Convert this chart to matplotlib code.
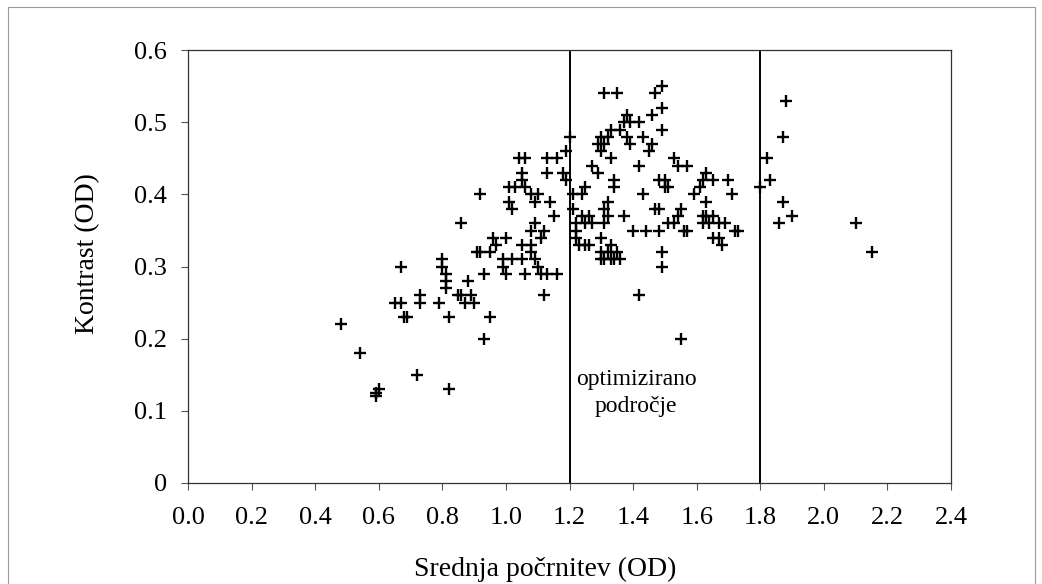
import matplotlib
matplotlib.use('Agg')
from matplotlib import pyplot as plt
from matplotlib.lines import Line2D

plt.rcParams['font.family'] = ['Liberation Serif', 'DejaVu Serif']

# Srednja počrnitev (OD) and Kontrast (OD)
x_left = [0.48, 0.54, 0.59, 0.60, 0.59, 0.65, 0.67, 0.67, 0.69, 0.68, 0.72, 0.73, 0.73,
          0.79, 0.80, 0.80, 0.81, 0.81, 0.81, 0.82, 0.82, 0.86, 0.85, 0.86, 0.87, 0.88,
          0.89, 0.90, 0.92, 0.91, 0.92, 0.93, 0.93, 0.95, 0.95, 0.96, 0.97, 0.99, 1.00,
          0.99, 1.00, 1.01, 1.02, 1.01, 1.03, 1.04, 1.06, 1.05, 1.06, 1.05, 1.02, 1.05,
          1.05, 1.08, 1.06, 1.08, 1.09, 1.08, 1.09, 1.10, 1.08, 1.09, 1.10, 1.11, 1.13,
          1.16, 1.12, 1.11, 1.12, 1.14, 1.15, 1.13, 1.16, 1.13, 1.18, 1.19, 1.19, 1.20]
y_left = [0.22, 0.18, 0.12, 0.13, 0.125, 0.25, 0.25, 0.30, 0.23, 0.23, 0.15, 0.25, 0.26,
          0.25, 0.31, 0.30, 0.29, 0.28, 0.27, 0.23, 0.13, 0.36, 0.26, 0.26, 0.25, 0.28,
          0.26, 0.25, 0.40, 0.32, 0.32, 0.29, 0.20, 0.23, 0.32, 0.34, 0.33, 0.30, 0.29,
          0.31, 0.34, 0.39, 0.38, 0.41, 0.41, 0.45, 0.45, 0.42, 0.41, 0.43, 0.31, 0.31,
          0.33, 0.33, 0.29, 0.35, 0.36, 0.40, 0.39, 0.40, 0.32, 0.31, 0.30, 0.29, 0.29,
          0.29, 0.26, 0.34, 0.35, 0.39, 0.37, 0.45, 0.45, 0.43, 0.43, 0.42, 0.46, 0.48]

x_mid = [1.21, 1.21, 1.22, 1.23, 1.22, 1.22, 1.24, 1.26, 1.27, 1.25, 1.25, 1.26, 1.24,
         1.25, 1.27, 1.29, 1.30, 1.29, 1.30, 1.31, 1.32, 1.33, 1.31, 1.35, 1.30, 1.31,
         1.32, 1.33, 1.34, 1.35, 1.36, 1.30, 1.30, 1.31, 1.32, 1.31, 1.32, 1.33, 1.33,
         1.34, 1.34, 1.37, 1.36, 1.37, 1.38, 1.39, 1.38, 1.39, 1.40, 1.42, 1.42, 1.42,
         1.43, 1.43, 1.44, 1.48, 1.45, 1.46, 1.46, 1.47, 1.48, 1.47, 1.49, 1.49, 1.49,
         1.49, 1.49, 1.48, 1.50, 1.51, 1.50, 1.51, 1.53, 1.53, 1.54, 1.54, 1.55, 1.55,
         1.56, 1.57, 1.57, 1.59, 1.61, 1.62, 1.63, 1.65, 1.62, 1.63, 1.64, 1.62, 1.65,
         1.63, 1.65, 1.67, 1.68, 1.67, 1.69, 1.70, 1.71, 1.72, 1.73]
y_mid = [0.40, 0.38, 0.35, 0.33, 0.34, 0.36, 0.37, 0.37, 0.36, 0.36, 0.33, 0.33, 0.40,
         0.41, 0.44, 0.43, 0.46, 0.47, 0.48, 0.47, 0.48, 0.49, 0.54, 0.54, 0.31, 0.31,
         0.32, 0.31, 0.31, 0.32, 0.31, 0.32, 0.34, 0.36, 0.37, 0.38, 0.39, 0.33, 0.45,
         0.41, 0.42, 0.37, 0.49, 0.50, 0.51, 0.50, 0.48, 0.47, 0.35, 0.26, 0.44, 0.50,
         0.48, 0.40, 0.35, 0.35, 0.46, 0.47, 0.51, 0.38, 0.38, 0.54, 0.55, 0.52, 0.49,
         0.32, 0.30, 0.42, 0.41, 0.41, 0.42, 0.36, 0.36, 0.45, 0.44, 0.37, 0.38, 0.20,
         0.35, 0.35, 0.44, 0.40, 0.41, 0.42, 0.43, 0.42, 0.37, 0.37, 0.36, 0.36, 0.37,
         0.39, 0.34, 0.34, 0.33, 0.36, 0.36, 0.42, 0.40, 0.35, 0.35]

x_right = [1.80, 1.82, 1.83, 1.86, 1.87, 1.87, 1.88, 1.90, 2.10, 2.15]
y_right = [0.41, 0.45, 0.42, 0.36, 0.39, 0.48, 0.53, 0.37, 0.36, 0.32]

region_bounds = [1.2, 1.8]
x_ticks = [0.0, 0.2, 0.4, 0.6, 0.8, 1.0, 1.2, 1.4, 1.6, 1.8, 2.0, 2.2, 2.4]
y_ticks = [0, 0.1, 0.2, 0.3, 0.4, 0.5, 0.6]
y_ticklabels = ['0', '0.1', '0.2', '0.3', '0.4', '0.5', '0.6']

fig = plt.figure(figsize=(10.42, 5.84), dpi=100)
ax = fig.add_axes([0.1804, 0.173, 0.7323, 0.741])

# thin frame of the scanned page (left, top, right)
fig.lines.append(Line2D([0.008, 0.008, 0.993, 0.993], [0.0, 0.988, 0.988, 0.0],
                        transform=fig.transFigure, color='#9a9a9a', linewidth=0.8))

xs = x_left + x_mid + x_right
ys = y_left + y_mid + y_right
ax.plot(xs, ys, linestyle='none', marker='+', color='black', markersize=8, markeredgewidth=1.7)

for b in region_bounds:
    ax.plot([b, b], [0, 0.6], color='black', linewidth=1.4)

ax.text(1.41, 0.125, 'optimizirano\npodročje', ha='center', va='center', fontsize=17,
        linespacing=1.35)

ax.set_xlim(0, 2.4)
ax.set_ylim(0, 0.6)
ax.set_xticks(x_ticks)
ax.set_xticklabels([f'{t:.1f}' for t in x_ticks])
ax.set_yticks(y_ticks)
ax.set_yticklabels(y_ticklabels)
ax.tick_params(axis='both', labelsize=19, direction='out', length=5, width=0.8, color='#555555')
ax.tick_params(axis='x', pad=12)
ax.tick_params(axis='y', pad=10)
for s in ax.spines.values():
    s.set_linewidth(0.9)
    s.set_color('#333333')

ax.set_xlabel('Srednja počrnitev (OD)', fontsize=20)
ax.set_ylabel('Kontrast (OD)', fontsize=20)
ax.xaxis.set_label_coords(0.468, -0.17)
ax.yaxis.set_label_coords(-0.115, 0.53)

fig.savefig('out.png', dpi=100)
